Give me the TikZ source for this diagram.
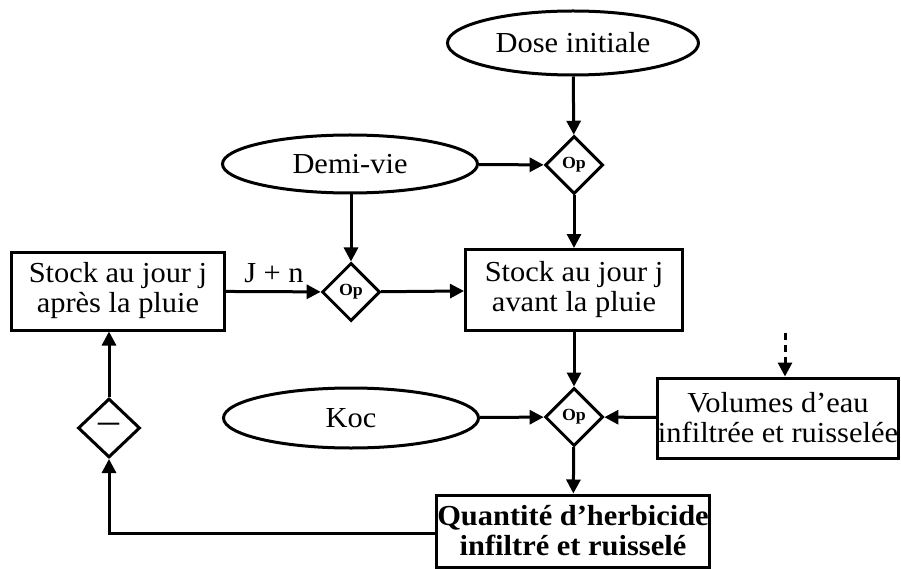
\documentclass[tikz,border=0pt]{standalone}
\usepackage{fontspec}
\setmainfont{Liberation Serif}[FakeStretch=1.05]
\usetikzlibrary{shapes.geometric,arrows.meta}
\begin{document}
\begin{tikzpicture}[x=1pt,y=-1pt,
  every node/.style={font=\fontsize{29}{30}\selectfont},
  oval/.style={draw,ellipse,line width=3pt,inner sep=0pt},
  opbox/.style={draw,diamond,line width=3pt,inner sep=0pt,minimum width=58pt,minimum height=58pt,font=\fontsize{17}{17}\selectfont\bfseries},
  stockbox/.style={draw,rectangle,line width=3pt,inner sep=0pt,align=center},
  conn/.style={line width=3pt,-{Triangle[length=14pt,width=14pt]}}]
\useasboundingbox (0,0) rectangle (901,569);
\node[oval,minimum width=251pt,minimum height=64pt] (dose) at (573,43) {Dose initiale};
\node[opbox] (op1) at (574,165) {Op};
\node[oval,minimum width=255pt,minimum height=58pt] (demi) at (350,164) {Demi-vie};
\node[opbox] (op2) at (351,292) {Op};
\node[stockbox,minimum width=213pt,minimum height=78pt] (apres) at (118,291) {Stock au jour j\\après la pluie};
\node[stockbox,minimum width=217pt,minimum height=81pt] (avant) at (574,290) {Stock au jour j\\avant la pluie};
\node (jn) at (274,273) {J + n};
\node[opbox] (op3) at (574,417) {Op};
\node[oval,minimum width=255pt,minimum height=60pt] (koc) at (351,418) {Koc};
\node[stockbox,minimum width=241pt,minimum height=80pt] (vol) at (778,418) {Volumes d’eau\\infiltrée et ruisselée};
\node[stockbox,minimum width=273pt,minimum height=72pt,font=\fontsize{29}{30}\selectfont\bfseries] (qte) at (573,531) {Quantité d’herbicide\\infiltré et ruisselé};
\node[opbox,minimum width=62pt,minimum height=59pt,font=\fontsize{40}{40}\selectfont] (minus) at (109,428) {–};
\coordinate (volin) at (785,333);
\coordinate (corner) at (109,533);
\draw[conn] (dose) -- (op1);
\draw[conn] (demi) -- (op1);
\draw[conn] (demi.south -| op2) -- (op2);
\draw[conn] (op1) -- (avant);
\draw[conn] (apres) -- (op2);
\draw[conn] (op2) -- (avant);
\draw[conn] (avant) -- (op3);
\draw[conn] (koc) -- (op3);
\draw[conn] (vol) -- (op3);
\draw[conn,dash pattern=on 7pt off 5pt] (volin) -- (volin |- vol.north);
\draw[conn] (op3) -- (qte);
\draw[conn] (qte.west |- corner) -- (corner) -- (minus);
\draw[conn] (minus) -- (minus |- apres.south);
\end{tikzpicture}
\end{document}
